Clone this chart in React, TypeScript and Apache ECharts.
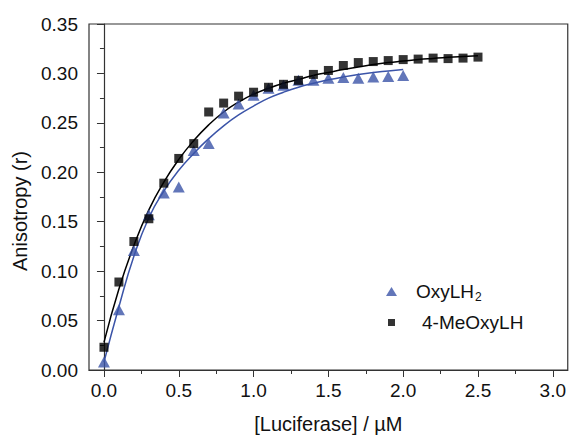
import React, { useEffect, useRef } from "react";
import * as echarts from "echarts";

// Measured data points
const xOxy = [0, 0.1, 0.2, 0.3, 0.4, 0.5, 0.6, 0.7, 0.8, 0.9, 1.0, 1.1, 1.2, 1.3, 1.4, 1.5, 1.6, 1.7, 1.8, 1.9, 2.0];
const yOxy = [0.008, 0.061, 0.121, 0.157, 0.179, 0.185, 0.222, 0.229, 0.26, 0.269, 0.278, 0.285, 0.288, 0.293, 0.293, 0.295, 0.296, 0.295, 0.2965, 0.297, 0.298];

const xMe = [0, 0.1, 0.2, 0.3, 0.4, 0.5, 0.6, 0.7, 0.8, 0.9, 1.0, 1.1, 1.2, 1.3, 1.4, 1.5, 1.6, 1.7, 1.8, 1.9, 2.0, 2.1, 2.2, 2.3, 2.4, 2.5];
const yMe = [0.023, 0.089, 0.13, 0.153, 0.189, 0.214, 0.229, 0.261, 0.27, 0.277, 0.281, 0.286, 0.289, 0.293, 0.299, 0.303, 0.308, 0.311, 0.312, 0.313, 0.314, 0.3145, 0.3155, 0.315, 0.3155, 0.3165];

// Fitted curves
const xFitOxy = [0, 0.1, 0.2, 0.3, 0.4, 0.5, 0.6, 0.7, 0.8, 0.9, 1.0, 1.1, 1.2, 1.3, 1.4, 1.5, 1.6, 1.7, 1.8, 1.9, 2.0];
const yFitOxy = [0.008, 0.064, 0.115, 0.154, 0.181, 0.202, 0.219, 0.234, 0.247, 0.258, 0.267, 0.275, 0.281, 0.286, 0.29, 0.2935, 0.2965, 0.299, 0.301, 0.3025, 0.304];
const xFitMe = [0, 0.1, 0.2, 0.3, 0.4, 0.5, 0.6, 0.7, 0.8, 0.9, 1.0, 1.1, 1.2, 1.3, 1.4, 1.5, 1.6, 1.7, 1.8, 1.9, 2.0, 2.1, 2.2, 2.3, 2.4, 2.5];
const yFitMe = [0.028, 0.082, 0.126, 0.162, 0.19, 0.213, 0.232, 0.248, 0.261, 0.271, 0.279, 0.285, 0.29, 0.294, 0.298, 0.301, 0.304, 0.3065, 0.309, 0.311, 0.3125, 0.314, 0.3152, 0.3163, 0.3172, 0.318];

const xMajorTicks = [0, 0.5, 1.0, 1.5, 2.0, 2.5, 3.0];
const xMinorTicks = [0.25, 0.75, 1.25, 1.75, 2.25, 2.75];

const BLUE = "#3b54a8";
const INK = "#111";
const FONT = "Liberation Sans, Arial, sans-serif";

export default function App() {
  const ref = useRef<HTMLDivElement>(null);
  useEffect(() => {
    const chart = echarts.init(ref.current!, null, { renderer: "svg" });
    const zip = (xs: number[], ys: number[]) => xs.map((x, i) => [x, ys[i]]);
    chart.setOption({
      animation: false,
      textStyle: { fontFamily: FONT, color: INK },
      grid: { left: 89, right: 1, top: 24, bottom: 63, show: true, borderColor: "#333", borderWidth: 1.2, backgroundColor: "transparent" },
      xAxis: [
        {
          type: "value",
          min: -0.1,
          max: 3.1,
          name: "[Luciferase] / µM",
          nameLocation: "middle",
          nameGap: 44,
          nameTextStyle: { fontSize: 20, color: INK, fontFamily: FONT },
          axisLine: { lineStyle: { color: "#333", width: 1.2 } },
          axisTick: { customValues: xMajorTicks, length: 7, lineStyle: { color: "#333" } },
          axisLabel: { customValues: xMajorTicks, fontSize: 19, color: INK, margin: 11, formatter: (v: number) => v.toFixed(1) },
          splitLine: { show: false },
        },
        {
          type: "value",
          min: -0.1,
          max: 3.1,
          position: "bottom",
          axisLine: { show: false },
          axisTick: { customValues: xMinorTicks, length: 4, lineStyle: { color: "#333" } },
          axisLabel: { show: false },
          splitLine: { show: false },
        },
      ],
      yAxis: {
        type: "value",
        min: 0,
        max: 0.35,
        interval: 0.05,
        name: "Anisotropy (r)",
        nameLocation: "middle",
        nameGap: 58,
        nameTextStyle: { fontSize: 20, color: INK, fontFamily: FONT, padding: [0, 28, 0, 0] },
        axisLine: { show: true, lineStyle: { color: "#333", width: 1.2 } },
        axisTick: { show: true, length: 7, lineStyle: { color: "#333" } },
        minorTick: { show: true, splitNumber: 2, length: 4, lineStyle: { color: "#333" } },
        axisLabel: { fontSize: 19, color: INK, margin: 11, formatter: (v: number) => v.toFixed(2) },
        splitLine: { show: false },
      },
      legend: [
        {
          left: 386,
          top: 282,
          padding: 0,
          itemWidth: 11,
          itemHeight: 9,
          data: [{ name: "OxyLH2", icon: "triangle" }],
          formatter: () => "{a|OxyLH}{s|2}",
          textStyle: {
            fontFamily: FONT,
            color: INK,
            rich: {
              a: { fontSize: 19, color: INK, fontFamily: FONT, padding: [0, 0, 0, 14] },
              s: { fontSize: 12, color: INK, fontFamily: FONT, padding: [10, 0, 0, 1] },
            },
          },
        },
        {
          left: 388,
          top: 313,
          padding: 0,
          itemWidth: 7,
          itemHeight: 7,
          data: [{ name: "4-MeOxyLH", icon: "rect" }],
          formatter: () => "{a|4-MeOxyLH}",
          textStyle: {
            fontFamily: FONT,
            color: INK,
            rich: { a: { fontSize: 19, color: INK, fontFamily: FONT, padding: [0, 0, 0, 22] } },
          },
        },
      ],
      series: [
        {
          name: "fitOxy",
          type: "line",
          data: zip(xFitOxy, yFitOxy),
          smooth: 0.5,
          showSymbol: false,
          lineStyle: { color: BLUE, width: 1.5 },
          z: 1,
          silent: true,
        },
        {
          name: "fitMe",
          type: "line",
          data: zip(xFitMe, yFitMe),
          smooth: 0.5,
          showSymbol: false,
          lineStyle: { color: "#000", width: 1.5 },
          z: 1,
          silent: true,
        },
        {
          name: "OxyLH2",
          type: "scatter",
          symbol: "triangle",
          symbolSize: [12, 11],
          itemStyle: { color: BLUE },
          data: zip(xOxy, yOxy),
          z: 3,
        },
        {
          name: "4-MeOxyLH",
          type: "scatter",
          symbol: "rect",
          symbolSize: 9,
          itemStyle: { color: "#000" },
          data: zip(xMe, yMe),
          z: 4,
        },
      ],
    });
    return () => chart.dispose();
  }, []);
  return (
    <div
      ref={ref}
      style={{ position: "fixed", left: 0, top: 0, width: 569, height: 439, background: "#fff" }}
    />
  );
}
